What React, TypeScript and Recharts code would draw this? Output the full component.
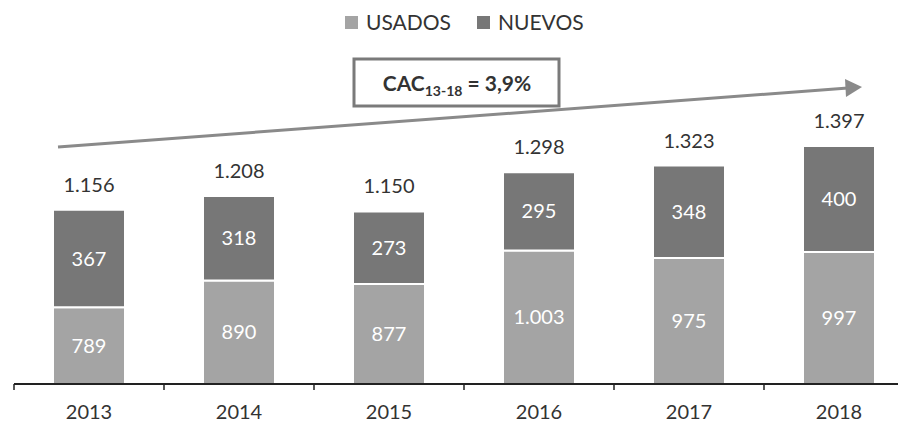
import React from "react";
import { BarChart, Bar, XAxis, YAxis, LabelList } from "recharts";

// Valores (miles de unidades)
const years = ["2013", "2014", "2015", "2016", "2017", "2018"];
const usados = [789, 890, 877, 1003, 975, 997];
const nuevos = [367, 318, 273, 295, 348, 400];
const totals = [1156, 1208, 1150, 1298, 1323, 1397];

const USADOS_COLOR = "#a4a4a4";
const NUEVOS_COLOR = "#777777";
const TEXT = "#333333";
const FONT = "Lato, 'Open Sans', sans-serif";

const rows = years.map((y, i) => ({ year: y, usados: usados[i], nuevos: nuevos[i], total: totals[i] }));

// "1003" -> "1.003" (separador de miles español)
const fmt = (v: unknown) => String(v).replace(/\B(?=(\d{3})+(?!\d))/g, ".");

/** Tick label at the category centre, tick mark at the category's left boundary. */
function YearTick(props: any) {
  const { x, y, payload } = props;
  const half = 75;
  return (
    <g>
      <line x1={x - half} x2={x - half} y1={y - 8} y2={y - 2} stroke="#222" strokeWidth={1.5} />
      <text x={x} y={y + 27} textAnchor="middle" fill={TEXT} fontSize={20} fontFamily={FONT}>
        {payload.value}
      </text>
    </g>
  );
}

function LegendRow() {
  const item = (color: string, label: string, left: number) => (
    <div style={{ position: "absolute", left, top: 10, display: "flex", alignItems: "center" }}>
      <span style={{ width: 13, height: 13, background: color, display: "inline-block", marginRight: 8 }} />
      <span style={{ fontSize: 21, color: TEXT, fontFamily: FONT, lineHeight: "24px" }}>{label}</span>
    </div>
  );
  return (
    <>
      {item(USADOS_COLOR, "USADOS", 345)}
      {item(NUEVOS_COLOR, "NUEVOS", 477)}
    </>
  );
}

/** Flecha de tendencia y recuadro de la CAC, superpuestos al gráfico. */
function Annotation() {
  return (
    <svg width={898} height={424} style={{ position: "absolute", left: 0, top: 0, pointerEvents: "none" }}>
      <line x1={58} y1={147} x2={848} y2={88} stroke="#8a8a8a" strokeWidth={3} />
      <polygon points="862,87 845,79 846,97" fill="#8a8a8a" />
      <rect x={354} y={59} width={205} height={47} fill="#fff" stroke="#7a7a7a" strokeWidth={3} />
      <text x={457} y={91} textAnchor="middle" fill={TEXT} fontFamily={FONT} fontWeight={700} fontSize={21}>
        CAC
        <tspan fontSize={14} dy={5}>13-18</tspan>
        <tspan dy={-5}> = 3,9%</tspan>
      </text>
    </svg>
  );
}

export default function App() {
  return (
    <div style={{ position: "relative", width: 898, height: 424, overflow: "hidden", background: "#fff" }}>
      <style>{`body{margin:0}`}</style>
      <div style={{ position: "absolute", left: 0, top: 0 }}>
        <BarChart width={914} height={424} data={rows} margin={{ top: 92, right: 0, bottom: 0, left: 14 }} barSize={72}>
          <YAxis hide domain={[500, 1600]} allowDataOverflow />
          <XAxis
            dataKey="year"
            height={40}
            tickLine={false}
            axisLine={{ stroke: "#222", strokeWidth: 2 }}
            tick={<YearTick />}
            interval={0}
          />
          <Bar dataKey="usados" stackId="a" fill={USADOS_COLOR} stroke="#fff" strokeWidth={2} isAnimationActive={false}>
            <LabelList dataKey="usados" position="center" fill="#fff" fontSize={20} fontFamily={FONT} formatter={fmt} />
          </Bar>
          <Bar dataKey="nuevos" stackId="a" fill={NUEVOS_COLOR} stroke="#fff" strokeWidth={2} isAnimationActive={false}>
            <LabelList dataKey="nuevos" position="center" fill="#fff" fontSize={20} fontFamily={FONT} formatter={fmt} />
            <LabelList dataKey="total" position="top" offset={18} fill={TEXT} fontSize={20} fontFamily={FONT} formatter={fmt} />
          </Bar>
        </BarChart>
      </div>
      <LegendRow />
      <Annotation />
    </div>
  );
}
